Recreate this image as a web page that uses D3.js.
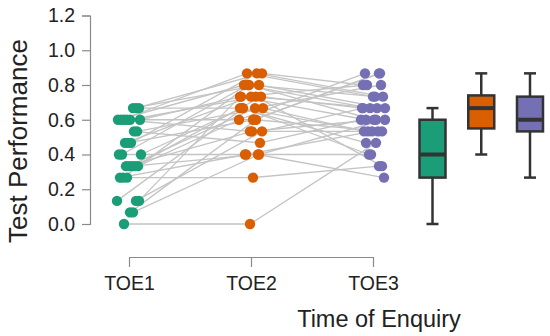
<!DOCTYPE html>
<html>
<head>
<meta charset="utf-8">
<script src="https://cdn.jsdelivr.net/npm/d3@7/dist/d3.min.js"></script>
<style>
  html, body { margin: 0; padding: 0; background: #fff; }
  svg { display: block; font-family: "Liberation Sans", Arial, sans-serif; }
</style>
</head>
<body>
<svg id="chart" width="550" height="336"></svg>
<script>
// ---- data ----
const categories = ["TOE1", "TOE2", "TOE3"];
const colors = ["#1b9e77", "#d95f02", "#7570b3"];
const yTicks = [0.0, 0.2, 0.4, 0.6, 0.8, 1.0, 1.2];

// per-subject test performance at each time of enquiry
const toe1 = [0.000, 0.267, 0.067, 0.067, 0.133, 0.133, 0.133, 0.267, 0.267, 0.333, 0.333, 0.333, 0.333, 0.333, 0.400, 0.400,
              0.400, 0.467, 0.467, 0.467, 0.533, 0.533, 0.600, 0.600, 0.600, 0.600, 0.600, 0.600, 0.667, 0.667, 0.667];
const toe2 = [0.000, 0.267, 0.600, 0.400, 0.533, 0.733, 0.667, 0.400, 0.800, 0.533, 0.667, 0.400, 0.733, 0.600, 0.667, 0.400,
              0.800, 0.733, 0.600, 0.867, 0.467, 0.667, 0.733, 0.800, 0.867, 0.533, 0.600, 0.733, 0.800, 0.867, 0.667];
const toe3 = [0.467, 0.333, 0.533, 0.600, 0.667, 0.600, 0.400, 0.533, 0.733, 0.533, 0.800, 0.267, 0.667, 0.867, 0.533, 0.400,
              0.600, 0.667, 0.867, 0.733, 0.600, 0.533, 0.800, 0.667, 0.733, 0.600, 0.867, 0.333, 0.667, 0.800, 0.467];

// box plot summaries
const boxMin    = [0.000, 0.400, 0.267];
const boxQ1     = [0.267, 0.550, 0.533];
const boxMedian = [0.400, 0.667, 0.600];
const boxQ3     = [0.600, 0.740, 0.733];
const boxMax    = [0.667, 0.867, 0.867];

// ---- chart ----
const svg = d3.select("#chart");
const series = [toe1, toe2, toe3];

const y = d3.scaleLinear().domain([0, 1.2]).range([224, 15.5]);
const x = d3.scalePoint().domain(categories).range([129, 373]);
const xb = d3.scalePoint().domain(categories).range([432.5, 530]);

// deterministic horizontal spread of dots
function jitter(i, c) { return ((i * 53 + c * 29 + 7) % 25) - 12; }

// lines between time points
const lineG = svg.append("g");
toe1.forEach((_, i) => {
  const pts = series.map((s, c) => [x(categories[c]) + jitter(i, c), y(s[i])]);
  lineG.append("path")
    .attr("d", d3.line()(pts))
    .attr("fill", "none")
    .attr("stroke", "#c4c4c4")
    .attr("stroke-width", 1.3);
});

// dots
series.forEach((s, c) => {
  svg.append("g").selectAll("circle").data(s).join("circle")
    .attr("cx", (d, i) => x(categories[c]) + jitter(i, c))
    .attr("cy", d => y(d))
    .attr("r", 5.2)
    .attr("fill", colors[c]);
});

// box plots
const bw = 26, cap = 12;
categories.forEach((cat, c) => {
  const g = svg.append("g");
  const cx = xb(cat);
  g.append("line").attr("x1", cx).attr("x2", cx).attr("y1", y(boxMax[c])).attr("y2", y(boxQ3[c]))
    .attr("stroke", "#333").attr("stroke-width", 2.5);
  g.append("line").attr("x1", cx).attr("x2", cx).attr("y1", y(boxQ1[c])).attr("y2", y(boxMin[c]))
    .attr("stroke", "#333").attr("stroke-width", 2.5);
  g.append("line").attr("x1", cx - cap / 2).attr("x2", cx + cap / 2).attr("y1", y(boxMax[c])).attr("y2", y(boxMax[c]))
    .attr("stroke", "#333").attr("stroke-width", 2.5);
  g.append("line").attr("x1", cx - cap / 2).attr("x2", cx + cap / 2).attr("y1", y(boxMin[c])).attr("y2", y(boxMin[c]))
    .attr("stroke", "#333").attr("stroke-width", 2.5);
  g.append("rect").attr("x", cx - bw / 2).attr("width", bw)
    .attr("y", y(boxQ3[c])).attr("height", y(boxQ1[c]) - y(boxQ3[c]))
    .attr("fill", colors[c]).attr("stroke", "#333").attr("stroke-width", 2.5);
  g.append("line").attr("x1", cx - bw / 2).attr("x2", cx + bw / 2).attr("y1", y(boxMedian[c])).attr("y2", y(boxMedian[c]))
    .attr("stroke", "#333").attr("stroke-width", 4);
});

// y axis
const yAxis = svg.append("g").attr("transform", "translate(90,0)")
  .call(d3.axisLeft(y).tickValues(yTicks).tickFormat(d3.format(".1f")).tickSize(8).tickPadding(7));
yAxis.select(".domain").attr("stroke", "#8a8a8a").attr("stroke-width", 1.2);
yAxis.selectAll(".tick line").attr("stroke", "#8a8a8a").attr("stroke-width", 1.2);
yAxis.selectAll(".tick text").attr("font-size", 19.5).attr("fill", "#222").attr("font-family", "Liberation Sans, Arial, sans-serif");

// x axis
const xAxis = svg.append("g").attr("transform", "translate(0,257)")
  .call(d3.axisBottom(x).tickSize(10).tickPadding(9).tickSizeOuter(0));
xAxis.select(".domain").attr("stroke", "#8a8a8a").attr("stroke-width", 1.2);
xAxis.selectAll(".tick line").attr("stroke", "#8a8a8a").attr("stroke-width", 1.2);
xAxis.selectAll(".tick text").attr("font-size", 19.5).attr("fill", "#222").attr("font-family", "Liberation Sans, Arial, sans-serif");

// axis titles
svg.append("text").attr("x", 379).attr("y", 327).attr("text-anchor", "middle")
  .attr("font-size", 23.5).attr("fill", "#222").text("Time of Enquiry");
svg.append("text").attr("transform", "translate(27,141) rotate(-90)").attr("text-anchor", "middle")
  .attr("font-size", 26).attr("fill", "#222").text("Test Performance");
</script>
</body>
</html>
